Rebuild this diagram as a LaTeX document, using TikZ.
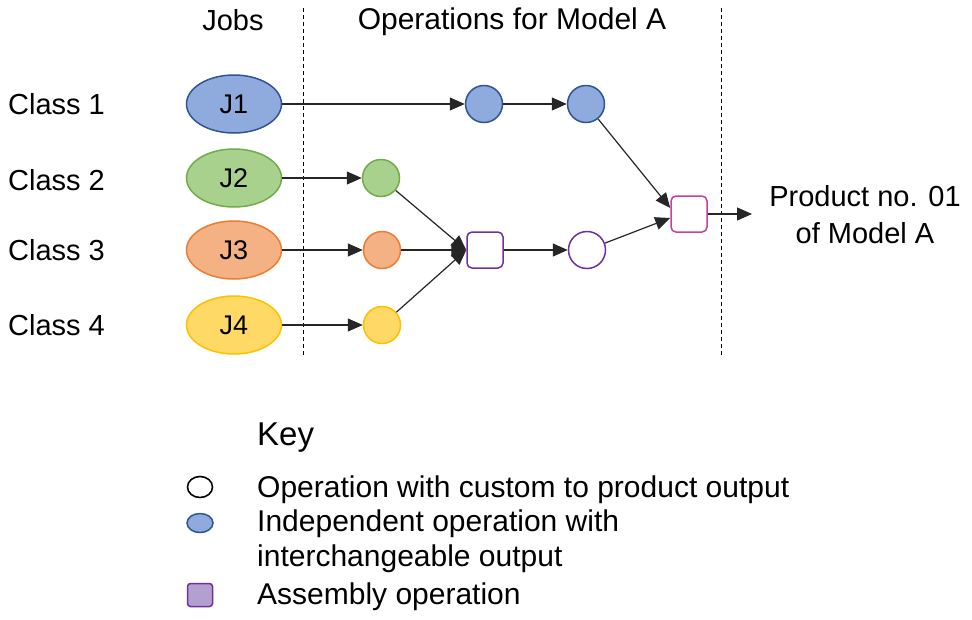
\documentclass[tikz,border=0pt]{standalone}
\usepackage{fontspec}
\setmainfont{Liberation Sans}
\usetikzlibrary{arrows.meta,shapes.geometric}
\definecolor{bluef}{HTML}{8FAADC}\definecolor{blued}{HTML}{2F5597}
\definecolor{greenf}{HTML}{A9D18E}\definecolor{greend}{HTML}{70AD47}
\definecolor{orangef}{HTML}{F4B183}\definecolor{oranged}{HTML}{ED7D31}
\definecolor{yellowf}{HTML}{FFD966}\definecolor{yellowd}{HTML}{FFC000}
\definecolor{purpd}{HTML}{7030A0}\definecolor{purpf}{HTML}{B4A0D0}
\definecolor{magd}{HTML}{C8409E}
\begin{document}
\begin{tikzpicture}[x=1pt,y=-1pt,
  lbl/.style={font=\fontsize{29}{37}\selectfont, inner sep=0pt},
  leg/.style={font=\fontsize{30}{35}\selectfont, inner sep=0pt},
  job/.style={ellipse, minimum width=95pt, minimum height=58pt, line width=1.5pt, font=\fontsize{27}{30}\selectfont, inner sep=0pt},
  op/.style={circle, minimum size=37pt, line width=1.5pt, inner sep=0pt},
  asm/.style={rectangle, rounded corners=5pt, minimum size=36pt, line width=1.5pt, inner sep=0pt, fill=white},
  arr/.style={-{Triangle[length=15pt,width=13pt]}, line width=1.2pt, black!85},
  sep/.style={line width=0.9pt, dash pattern=on 4pt off 3pt}]
\useasboundingbox (0,0) rectangle (972,619);
\fill[white] (0,0) rectangle (972,619);
% separators
\coordinate (s1t) at (303,8); \coordinate (s1b) at (303,355);
\coordinate (s2t) at (721,8); \coordinate (s2b) at (721,355);
\draw[sep] (s1t) -- (s1b);
\draw[sep] (s2t) -- (s2b);
% headers
\node[lbl] (jobs) at (233,20) {Jobs};
\node[leg] (opsh) at (512,22) {Operations for Model A};
% classes
\node[lbl, anchor=west] (c1) at (8,104) {Class 1};
\node[lbl, anchor=west] (c2) at (8,180) {Class 2};
\node[lbl, anchor=west] (c3) at (8,250) {Class 3};
\node[lbl, anchor=west] (c4) at (8,325) {Class 4};
% jobs
\node[job, fill=bluef, draw=blued] (j1) at (234,104) {J1};
\node[job, fill=greenf, draw=greend] (j2) at (234,178) {J2};
\node[job, fill=orangef, draw=oranged] (j3) at (234,250) {J3};
\node[job, fill=yellowf, draw=yellowd] (j4) at (234,325) {J4};
% operations
\node[op, fill=greenf, draw=greend] (g) at (381,178) {};
\node[op, fill=orangef, draw=oranged] (o) at (382,250) {};
\node[op, fill=yellowf, draw=yellowd] (y) at (382,325) {};
\node[op, fill=bluef, draw=blued] (b1) at (484,104) {};
\node[op, fill=bluef, draw=blued] (b2) at (586,104) {};
\node[asm, draw=purpd] (a1) at (485,250) {};
\node[op, fill=white, draw=purpd] (w) at (587,250) {};
\node[asm, draw=magd] (a2) at (689,214) {};
\coordinate (out) at (752,214);
% product
\node[lbl, align=center] (prod) at (865,215) {Product no. 01\\of Model A};
% arrows
\draw[arr] (j1) -- (b1);
\draw[arr] (b1) -- (b2);
\draw[arr] (j2) -- (g);
\draw[arr] (j3) -- (o);
\draw[arr] (j4) -- (y);
\draw[arr] (g) -- (a1.west);
\draw[arr] (o) -- (a1.west);
\draw[arr] (y) -- (a1.west);
\draw[arr] (a1) -- (w);
\draw[arr] (b2) -- ([yshift=6pt]a2.west);
\draw[arr] (w) -- ([yshift=-4pt]a2.west);
\draw[arr] (a2) -- (out);
% key
\node[font=\fontsize{33}{36}\selectfont, inner sep=0pt, anchor=west] (key) at (257,438) {Key};
\node[ellipse, draw=black, line width=1.6pt, minimum width=25pt, minimum height=21pt, inner sep=0pt] (k1) at (200,487) {};
\node[ellipse, draw=blued, fill=bluef, line width=1.5pt, minimum width=26pt, minimum height=19pt, inner sep=0pt] (k2) at (200,523) {};
\node[rectangle, rounded corners=3pt, draw=purpd, fill=purpf, line width=1.5pt, minimum width=25pt, minimum height=23pt, inner sep=0pt] (k3) at (200,595) {};
\node[leg, anchor=west] (t1) at (257,490) {Operation with custom to product output};
\node[leg, anchor=west, align=left] (t2) at (257,541) {Independent operation with\\interchangeable output};
\node[leg, anchor=west] (t3) at (257,597) {Assembly operation};
\end{tikzpicture}
\end{document}
